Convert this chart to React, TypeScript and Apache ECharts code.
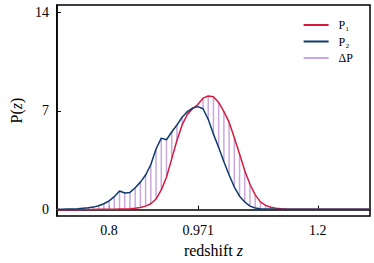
import React, { useEffect, useRef } from "react";
import * as echarts from "echarts";

const zValues = [
  0.70, 0.71, 0.72, 0.73, 0.74, 0.75, 0.76, 0.77, 0.78, 0.79,
  0.80, 0.81, 0.82, 0.83, 0.84, 0.85, 0.86, 0.87, 0.88, 0.89,
  0.90, 0.91, 0.92, 0.93, 0.94, 0.95, 0.96, 0.97, 0.98, 0.99,
  1.00, 1.01, 1.02, 1.03, 1.04, 1.05, 1.06, 1.07, 1.08, 1.09,
  1.10, 1.11, 1.12, 1.13, 1.14, 1.15, 1.16, 1.17, 1.18, 1.19,
  1.20, 1.21, 1.22, 1.23, 1.24, 1.25, 1.26, 1.27, 1.28, 1.29, 1.30,
];

const p1Values = [
  0.0, 0.0, 0.0, 0.0, 0.0, 0.01, 0.01, 0.01, 0.02, 0.02,
  0.03, 0.03, 0.04, 0.05, 0.06, 0.1, 0.15, 0.25, 0.42, 0.75,
  1.4, 2.3, 3.6, 4.9, 6.0, 6.75, 7.15, 7.45, 7.9, 8.05,
  8.0, 7.6, 6.95, 6.2, 5.1, 3.95, 2.75, 1.8, 1.05, 0.55,
  0.3, 0.17, 0.1, 0.06, 0.04, 0.03, 0.03, 0.03, 0.03, 0.03,
  0.03, 0.03, 0.03, 0.03, 0.03, 0.03, 0.03, 0.03, 0.03, 0.03, 0.03,
];

const p2Values = [
  0.03, 0.03, 0.04, 0.05, 0.07, 0.1, 0.13, 0.18, 0.28, 0.42,
  0.62, 0.92, 1.32, 1.18, 1.22, 1.55, 1.95, 2.45, 3.2, 4.3,
  5.07, 4.95, 5.5, 6.0, 6.55, 6.95, 7.2, 7.3, 7.15, 6.4,
  5.35, 4.4, 3.4, 2.45, 1.6, 0.95, 0.54, 0.25, 0.12, 0.07,
  0.05, 0.04, 0.03, 0.03, 0.03, 0.03, 0.03, 0.03, 0.03, 0.03,
  0.03, 0.03, 0.03, 0.03, 0.03, 0.03, 0.03, 0.03, 0.03, 0.03, 0.03,
];

const xTicks = [0.8, 0.971, 1.2];
const yTicks = [0, 7, 14];

const RED = "#d7193f";
const BLUE = "#0f3a6e";
const PURPLE = "#c9a8dc";
const FONT = "serif";

export default function App() {
  const ref = useRef<HTMLDivElement>(null);

  useEffect(() => {
    document.body.style.margin = "0";
    if (!ref.current) return;
    const chart = echarts.init(ref.current, undefined, { renderer: "svg" });

    const p1Data = zValues.map((z, i) => [z, p1Values[i]]);
    const p2Data = zValues.map((z, i) => [z, p2Values[i]]);
    const dData = zValues.map((z, i) => [z, p1Values[i], p2Values[i]]);

    const nameStyle = {
      fontFamily: FONT,
      fontSize: 16,
      color: "#000",
      rich: { i: { fontFamily: FONT, fontStyle: "italic", fontSize: 16, color: "#000" } },
    };

    chart.setOption({
      animation: false,
      textStyle: { fontFamily: FONT },
      grid: {
        left: 44,
        right: 4,
        top: 5,
        bottom: 46,
        show: true,
        borderColor: "#000",
        borderWidth: 1.5,
      },
      legend: {
        orient: "vertical",
        right: 16,
        top: 14,
        itemWidth: 25,
        itemHeight: 2,
        itemGap: 4.5,
        textStyle: { fontFamily: FONT, fontSize: 12, color: "#000", padding: [0, 0, 0, 5] },
        data: [
          { name: "P₁", icon: "rect" },
          { name: "P₂", icon: "rect" },
          { name: "ΔP", icon: "rect" },
        ],
      },
      xAxis: {
        type: "value",
        min: 0.7,
        max: 1.3,
        name: "redshift {i|z}",
        nameLocation: "middle",
        nameGap: 26,
        nameTextStyle: nameStyle,
        axisLine: { show: true, lineStyle: { color: "#000", width: 1.5 } },
        axisTick: { show: true, inside: true, length: 4, customValues: xTicks, lineStyle: { color: "#000" } },
        axisLabel: {
          customValues: xTicks,
          fontFamily: FONT,
          fontSize: 14,
          color: "#000",
          margin: 7,
          formatter: (v: number) => (Math.abs(v - 0.971) < 1e-6 ? "0.971" : v.toFixed(1)),
        },
        splitLine: { show: false },
      },
      yAxis: {
        type: "value",
        min: -0.45,
        max: 14.5,
        name: "P({i|z})",
        nameLocation: "middle",
        nameGap: 24,
        nameTextStyle: nameStyle,
        axisLine: { show: true, lineStyle: { color: "#000", width: 1.5 } },
        axisTick: { show: true, inside: true, length: 4, customValues: yTicks, lineStyle: { color: "#000" } },
        axisLabel: {
          customValues: yTicks,
          fontFamily: FONT,
          fontSize: 14,
          color: "#000",
          margin: 8,
        },
        splitLine: { show: false },
      },
      series: [
        {
          name: "ΔP",
          type: "custom",
          itemStyle: { color: PURPLE },
          data: dData,
          z: 1,
          renderItem: (params: any, api: any) => {
            const z = api.value(0);
            const a = api.coord([z, api.value(1)]);
            const b = api.coord([z, api.value(2)]);
            return {
              type: "line",
              shape: { x1: a[0], y1: a[1], x2: b[0], y2: b[1] },
              style: { stroke: PURPLE, lineWidth: 1.5 },
            };
          },
        },
        {
          name: "P₁",
          type: "line",
          data: p1Data,
          showSymbol: false,
          lineStyle: { color: RED, width: 1.5 },
          itemStyle: { color: RED },
          z: 3,
        },
        {
          name: "P₂",
          type: "line",
          data: p2Data,
          showSymbol: false,
          lineStyle: { color: BLUE, width: 1.5 },
          itemStyle: { color: BLUE },
          z: 4,
        },
      ],
    });

    return () => chart.dispose();
  }, []);

  return <div ref={ref} style={{ width: 374, height: 263 }} />;
}
